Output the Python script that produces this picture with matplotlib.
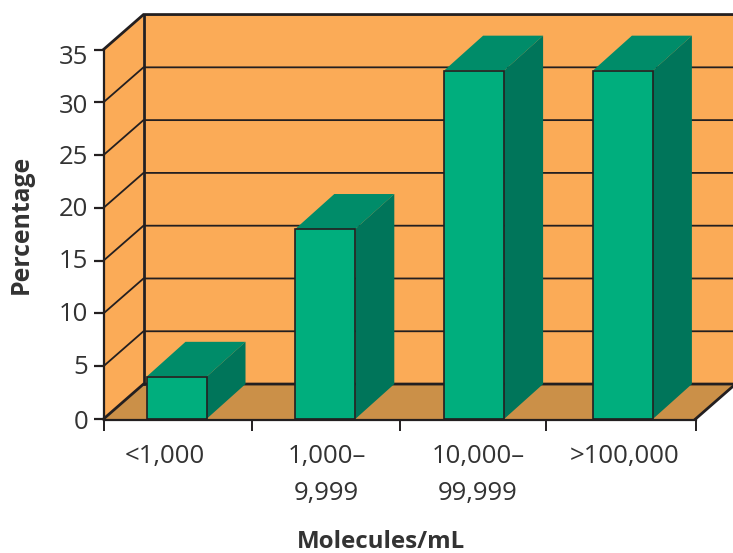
import matplotlib
matplotlib.use("Agg")
import matplotlib.pyplot as plt

categories = ["<1,000", "1,000–\n9,999", "10,000–\n99,999", ">100,000"]
values = [4, 18, 33, 33]
y_ticks = [0, 5, 10, 15, 20, 25, 30, 35]

WALL = "#fbab57"; FLOOR = "#cb9048"; FRONT = "#00ae7d"; TOP = "#008c69"; SIDE = "#00755a"
LINE = "#231f20"; TEXT = "#333333"
W, H = 733, 553
plt.rcParams["font.family"] = ["Open Sans", "DejaVu Sans"]

fig = plt.figure(figsize=(W/100, H/100), dpi=100)
L, R, T, B = 103.5, 695.5, 49.5, 419.5
ax = fig.add_axes([L/W, 1-B/H, (R-L)/W, (B-T)/H])
ax.set_xlim(0, 4); ax.set_ylim(0, 35)
ax.patch.set_visible(False)
for s in ("top", "right"):
    ax.spines[s].set_visible(False)
for s in ("left", "bottom"):
    ax.spines[s].set_linewidth(1.6); ax.spines[s].set_color(LINE); ax.spines[s].set_zorder(6)

dx = 40 / ((R-L)/4)
dy = 35 / ((B-T)/35)
xb = dx; xe = 4 + dx; yt = 35 + dy

ax.fill([0, xb, xb, 0], [0, dy, yt, 35], color=WALL, lw=0, zorder=1, clip_on=False)
ax.fill([xb, xe, xe, xb], [dy, dy, yt, yt], color=WALL, lw=0, zorder=1, clip_on=False)
ax.fill([0, xb, xe, 4], [0, dy, dy, 0], color=FLOOR, lw=0, zorder=1, clip_on=False)

for v in y_ticks:
    lw = 1.3 if v not in (0, 35) else 2.0
    ax.plot([0, xb, xe], [v, v+dy, v+dy], color=LINE, lw=lw, zorder=2, clip_on=False,
            solid_joinstyle="miter")
ax.plot([xb, xb], [dy, yt], color=LINE, lw=2.0, zorder=2, clip_on=False)
ax.plot([4, xe], [0, dy], color=LINE, lw=2.0, zorder=2, clip_on=False)

offs = 43 / ((R-L)/4)
bw = 60 / ((R-L)/4)
step = 148.8 / ((R-L)/4)
lefts = [offs + i*step for i in range(len(values))]
ddx = 39 / ((R-L)/4)
for x0, v in zip(lefts, values):
    ax.fill([x0, x0+ddx, x0+bw+ddx, x0+bw], [v, v+dy, v+dy, v], color=TOP, lw=0, zorder=3, clip_on=False)
    ax.fill([x0+bw, x0+bw+ddx, x0+bw+ddx, x0+bw], [0, dy, v+dy, v], color=SIDE, lw=0, zorder=3, clip_on=False)
ax.bar(lefts, values, width=bw, align="edge", color=FRONT, edgecolor=LINE, linewidth=1.2, zorder=4, clip_on=False)

ax.set_yticks(y_ticks)
ax.set_yticklabels([])
ax.tick_params(axis="y", which="major", length=7, width=1.6, color=LINE)
ylabel_px = [420, 365, 312, 259, 207, 155, 104, 55]
ax.set_yticks([(B-p)/((B-T)/35) for p in ylabel_px], [str(v) for v in y_ticks], minor=True)
ax.tick_params(axis="y", which="minor", length=0, pad=11, labelsize=18.5, labelcolor=TEXT)

ax.set_xticks([0, 1, 2, 2.99, 4])
ax.set_xticklabels([])
ax.tick_params(axis="x", which="major", length=8, width=1.4, color=LINE)
label_px = [165, 326.5, 478, 625]
ax.set_xticks([(p-L)/((R-L)/4) for p in label_px], categories, minor=True)
ax.tick_params(axis="x", which="minor", length=0, pad=18, labelsize=18.5, labelcolor=TEXT)
for t in ax.get_xticklabels(minor=True):
    t.set_linespacing(1.63)
    t.set_verticalalignment("top")

fig.text(21/W, 1-224/H, "Percentage", rotation=90, ha="center", va="center",
         fontsize=17.8, fontweight="bold", color=TEXT)
fig.text(381/W, 1-548/H, "Molecules/mL", ha="center", va="baseline",
         fontsize=17.4, fontweight="bold", color=TEXT)
fig.savefig("out.png", dpi=100)
